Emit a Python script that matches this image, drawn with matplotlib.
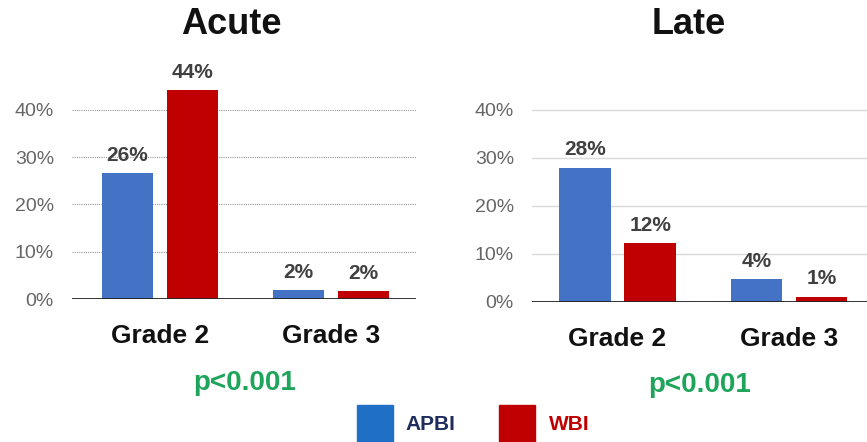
import numpy as np
import matplotlib.pyplot as plt

plt.rcParams['font.family'] = ['Liberation Sans', 'DejaVu Sans']

grades = ['Grade 2', 'Grade 3']
acute_apbi = [26.6, 1.8]
acute_wbi = [44.2, 1.6]
acute_apbi_lbl = ['26%', '2%']
acute_wbi_lbl = ['44%', '2%']
late_apbi = [28.0, 4.8]
late_wbi = [12.3, 1.1]
late_apbi_lbl = ['28%', '4%']
late_wbi_lbl = ['12%', '1%']
yticks = [0, 10, 20, 30, 40]

BLUE = '#4472c4'
RED = '#c00000'
W, H = 867, 442

fig = plt.figure(figsize=(W / 100, H / 100), dpi=100)


def box(x0, x1, ybase, px10):
    # pixel box -> figure fraction, ylim 0..45
    h = 4.5 * px10
    return [x0 / W, 1 - ybase / H, (x1 - x0) / W, h / H]


def panel(rect, xlim, apbi, wbi, albl, wlbl, dotted):
    ax = fig.add_axes(rect)
    x = np.arange(len(grades))
    off, bw = 0.19, 0.30
    b1 = ax.bar(x - off, apbi, bw, color=BLUE, zorder=3)
    b2 = ax.bar(x + off, wbi, bw, color=RED, zorder=3)
    for bars, lbls in ((b1, albl), (b2, wlbl)):
        for b, t in zip(bars, lbls):
            ax.annotate(t, (b.get_x() + b.get_width() / 2, b.get_height()),
                        xytext=(0, 6), textcoords='offset points',
                        ha='center', va='bottom', fontsize=15,
                        fontweight='bold', color='#404040')
    ax.set_xlim(*xlim)
    ax.set_ylim(0, 45)
    ax.set_yticks(yticks)
    ax.set_yticklabels([f'{v}%' for v in yticks], fontsize=14, color='#666666')
    ax.set_xticks(x)
    ax.set_xticklabels(grades, fontsize=19, fontweight='bold', color='#111111')
    ax.tick_params(axis='y', length=0, pad=13)
    ax.tick_params(axis='x', length=0, pad=18)
    for s in ax.spines.values():
        s.set_visible(False)
    if dotted:
        ax.grid(axis='y', color='#999999', linestyle=(0, (1, 1)), linewidth=0.8, zorder=0)
    else:
        ax.grid(axis='y', color='#d9d9d9', linestyle='-', linewidth=1.0, zorder=0)
    ax.axhline(0, color='#222222', linewidth=1.3, zorder=4)
    return ax


panel(box(72, 416, 299, 47.3), (-0.515, 1.497), acute_apbi, acute_wbi,
      acute_apbi_lbl, acute_wbi_lbl, True)
panel(box(532, 867, 302, 48), (-0.4985, 1.455), late_apbi, late_wbi,
      late_apbi_lbl, late_wbi_lbl, False)

fig.text(231 / W, 1 - 25 / H, 'Acute', fontsize=26, fontweight='bold',
         ha='center', va='center', color='#111111')
fig.text(689 / W, 1 - 25 / H, 'Late', fontsize=26, fontweight='bold',
         ha='center', va='center', color='#111111')

fig.text(245 / W, 1 - 383 / H, 'p<0.001', fontsize=20, fontweight='bold',
         ha='center', va='center', color='#1fa55b')
fig.text(700 / W, 1 - 385 / H, 'p<0.001', fontsize=20, fontweight='bold',
         ha='center', va='center', color='#1fa55b')

# legend
fig.patches.append(plt.Rectangle((357 / W, 0), 36 / W, 37 / H,
                                 transform=fig.transFigure, color='#1f6fc6'))
fig.text(405 / W, 1 - 424 / H, 'APBI', fontsize=15, fontweight='bold',
         ha='left', va='center', color='#1f2d5c')
fig.patches.append(plt.Rectangle((499 / W, 0), 36 / W, 37 / H,
                                 transform=fig.transFigure, color=RED))
fig.text(549 / W, 1 - 424 / H, 'WBI', fontsize=15, fontweight='bold',
         ha='left', va='center', color=RED)

fig.savefig('out.png', dpi=100, facecolor='white')
